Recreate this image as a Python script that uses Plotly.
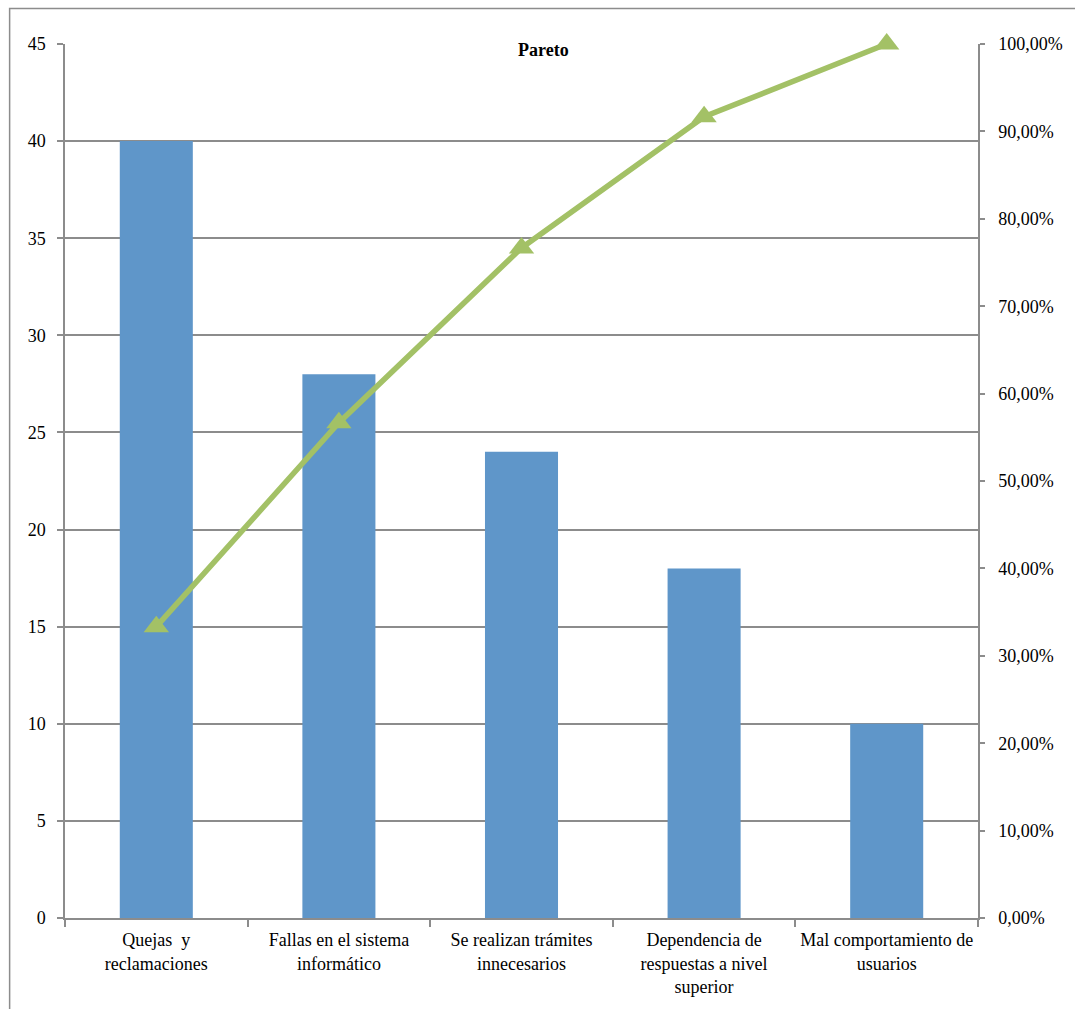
import plotly.graph_objects as go

categories = ["Quejas  y<br>reclamaciones", "Fallas en el sistema<br>informático",
              "Se realizan trámites<br>innecesarios", "Dependencia de<br>respuestas a nivel<br>superior",
              "Mal comportamiento de<br>usuarios"]
counts = [40, 28, 24, 18, 10]
cumulative_pct = [0.3333, 0.5667, 0.7667, 0.9167, 1.0]

FONT = "Liberation Serif"
GRID = "#8c8c8c"
FS = 18
GREEN = "#A3C166"

fig = go.Figure()
fig.add_trace(go.Bar(x=categories, y=counts, marker=dict(color="#5F96C9", line=dict(width=0)),
                     width=0.4, yaxis="y", showlegend=False))
fig.add_trace(go.Scatter(x=categories, y=cumulative_pct, yaxis="y2", mode="lines+markers",
                         line=dict(color=GREEN, width=5.5), cliponaxis=False,
                         marker=dict(symbol="triangle-up", size=22, color=GREEN,
                                     line=dict(width=0)),
                         showlegend=False))

W, H = 1075, 1009
L, R, T, B = 65, 95, 44, 90
pw, ph = W - L - R, H - T - B

def px(x):
    return (x - L) / pw

def py(y):
    return (H - B - y) / ph

fig.update_layout(
    width=W, height=H,
    margin=dict(l=L, r=R, t=T, b=B),
    paper_bgcolor="white", plot_bgcolor="white",
    separators=",.",
    font=dict(family=FONT, size=FS, color="black"),
    xaxis=dict(type="category", showline=True, linecolor=GRID, linewidth=1.5,
               ticks="outside", tickson="boundaries", ticklen=7, tickcolor=GRID, tickwidth=1.5,
               showgrid=False, tickfont=dict(family=FONT, size=FS), tickangle=0,
               ticklabelstandoff=5),
    yaxis=dict(range=[0, 45], dtick=5, showline=True, linecolor=GRID, linewidth=1.5,
               ticks="outside", ticklen=6, tickcolor=GRID, tickwidth=1.5,
               showgrid=True, gridcolor=GRID, gridwidth=1.5, zeroline=False,
               tickfont=dict(family=FONT, size=FS), ticklabelstandoff=8),
    yaxis2=dict(range=[0, 1], dtick=0.1, tickformat=".2%", overlaying="y", side="right",
                showline=True, linecolor=GRID, linewidth=1.5,
                ticks="outside", ticklen=5, tickcolor=GRID, tickwidth=1.5,
                showgrid=False, zeroline=False, tickfont=dict(family=FONT, size=FS),
                ticklabelstandoff=10),
    annotations=[dict(text="<b>Pareto</b>", x=px(545), y=py(50), xref="paper", yref="paper",
                      xanchor="center", yanchor="middle",
                      showarrow=False, font=dict(family=FONT, size=18, color="black"))],
    shapes=[dict(type="rect", xref="paper", yref="paper", x0=px(9.5), x1=px(1090),
                 y0=py(1030), y1=py(8.5), line=dict(color="#8c8c8c", width=1.5),
                 fillcolor="rgba(0,0,0,0)", layer="below")],
)

fig.write_html("out.html")
